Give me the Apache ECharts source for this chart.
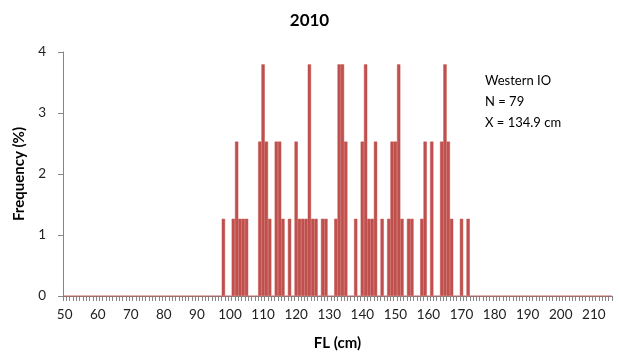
<!DOCTYPE html>
<html>
<head>
<meta charset="utf-8">
<script src="https://cdn.jsdelivr.net/npm/echarts@6/dist/echarts.min.js"></script>
<style>html,body{margin:0;padding:0;background:#fff}#c{width:619px;height:356px}</style>
</head>
<body>
<div id="c"></div>
<script>
// FL classes (cm) shown on the category axis
var flStart = 50, flEnd = 215;
// Observed lengths (cm) and their counts (N = 79)
var lengths = [98,101,102,103,104,105,109,110,111,112,114,115,116,118,120,121,122,123,124,125,126,128,129,132,133,134,135,138,140,141,142,143,144,146,148,149,150,151,152,154,155,158,159,161,164,165,166,167,170,172];
var counts  = [1,1,2,1,1,1,2,3,2,1,2,2,1,1,2,1,1,1,3,1,1,1,1,1,3,3,2,1,2,3,1,1,2,1,1,2,2,3,1,1,1,1,2,2,2,3,2,1,1,1];
var totalN = 79;
var yTicks = [0,1,2,3,4];
var noteLines = ['Western IO', 'N = 79', 'X = 134.9 cm'];

var categories = [];
for (var v = flStart; v <= flEnd; v++) categories.push(String(v));
var freq = categories.map(function(){ return 0; });
lengths.forEach(function(l, i){ freq[l - flStart] = counts[i] / totalN * 100; });

var font = 'Lato, "Open Sans", sans-serif';
var chart = echarts.init(document.getElementById('c'));
chart.setOption({
  animation: false,
  title: { text: '2010', left: 'center', top: 7,
    textStyle: { fontFamily: font, fontSize: 17, fontWeight: 'bold', color: '#000' } },
  grid: { left: 63, right: 7, top: 52, bottom: 60, containLabel: false },
  xAxis: {
    type: 'category', data: categories,
    name: 'FL (cm)', nameLocation: 'middle', nameGap: 40,
    nameTextStyle: { fontFamily: font, fontSize: 15, fontWeight: 'bold', color: '#000' },
    axisLine: { lineStyle: { color: '#868686', width: 1 } },
    axisTick: { show: true, interval: 0, length: 5, lineStyle: { color: '#868686' } },
    axisLabel: { interval: function(i){ return i % 10 === 0; }, margin: 12,
      fontFamily: font, fontSize: 13.5, color: '#222' },
    splitLine: { show: false }
  },
  yAxis: {
    type: 'value', min: 0, max: 4, interval: 1,
    name: 'Frequency (%)', nameLocation: 'middle', nameGap: 36, nameRotate: 90,
    nameTextStyle: { fontFamily: font, fontSize: 15, fontWeight: 'bold', color: '#000' },
    axisLine: { show: true, lineStyle: { color: '#868686', width: 1 } },
    axisTick: { show: true, length: 5, lineStyle: { color: '#868686' } },
    axisLabel: { margin: 17, fontFamily: font, fontSize: 13.5, color: '#222',
      formatter: function(v){ return yTicks.indexOf(v) >= 0 ? String(v) : ''; } },
    splitLine: { show: false }
  },
  series: [{
    type: 'bar', data: freq, barCategoryGap: '0%',
    itemStyle: { color: '#C0504D', borderColor: '#C0504D', borderWidth: 0.5 }
  }],
  graphic: [{
    type: 'text', left: 485, top: 70,
    style: { text: noteLines.join('\n'), fontFamily: font, fontSize: 13, lineHeight: 21, fill: '#000' }
  }]
});
</script>
</body>
</html>
